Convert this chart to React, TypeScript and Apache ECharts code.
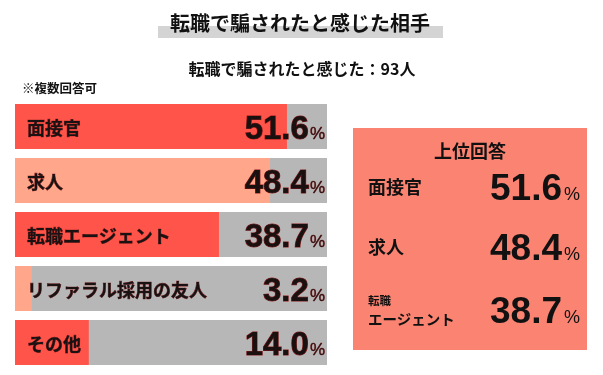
import React, { useEffect, useRef } from "react";
import * as echarts from "echarts";

const categories = ["面接官", "求人", "転職エージェント", "リファラル採用の友人", "その他"];
const values = [51.6, 48.4, 38.7, 3.2, 14.0];
const barColors = ["#ff5449", "#ffa68b", "#ff5449", "#ffa68b", "#ff5449"];
const axisMax = 59.2;
const titleText = "転職で騙されたと感じた相手";
const subtitleText = "転職で騙されたと感じた：93人";
const noteText = "※複数回答可";
const boxTitle = "上位回答";
const topCategories = ["面接官", "求人", "転職エージェント"];

const CJK = '"Noto Sans CJK JP", "Noto Sans", sans-serif';
const NUM = '"Liberation Sans", Arial, sans-serif';

export default function App() {
  const ref = useRef<HTMLDivElement>(null);
  useEffect(() => {
    if (!ref.current) return;
    const chart = echarts.init(ref.current, undefined, { renderer: "svg" });

    const rowY = [188, 248, 311];
    const boxGraphics: any[] = [];
    topCategories.forEach((cat, i) => {
      const v = values[categories.indexOf(cat)];
      if (cat === "転職エージェント") {
        boxGraphics.push({
          type: "text",
          x: 368,
          y: rowY[i] - 11,
          style: { text: "転職", fontSize: 11.5, fontWeight: "bold", fontFamily: CJK, fill: "#111", align: "left", verticalAlign: "middle" },
        });
        boxGraphics.push({
          type: "text",
          x: 368,
          y: rowY[i] + 7.5,
          style: { text: "エージェント", fontSize: 14.5, fontWeight: "bold", fontFamily: CJK, fill: "#111", align: "left", verticalAlign: "middle" },
        });
      } else {
        boxGraphics.push({
          type: "text",
          x: 368,
          y: rowY[i] - 2,
          style: {
            text: cat,
            fontSize: 18,
            fontWeight: "bold",
            fontFamily: CJK,
            fill: "#111",
            align: "left",
            verticalAlign: "middle",
          },
        });
      }
      boxGraphics.push({
        type: "text",
        x: 580,
        y: rowY[i],
        style: {
          text: `{n|${v.toFixed(1)}}{p|%}`,
          align: "right",
          verticalAlign: "middle",
          rich: {
            n: { fontSize: 37, fontWeight: "bold", fontFamily: NUM, fill: "#111", color: "#111", lineHeight: 36, verticalAlign: "bottom" },
            p: { fontSize: 18, fontFamily: NUM, fill: "#111", color: "#111", lineHeight: 36, verticalAlign: "bottom", padding: [0, 0, 3, 2] },
          },
        },
      });
    });

    chart.setOption({
      animation: false,
      grid: { left: 15, right: 276, top: 99.5, bottom: 5.5, containLabel: false },
      xAxis: { type: "value", min: 0, max: axisMax, show: false },
      yAxis: { type: "category", data: categories, inverse: true, show: false },
      series: [
        {
          type: "bar",
          data: values.map((v, i) => ({ value: v, itemStyle: { color: barColors[i] } })),
          barWidth: 45,
          showBackground: true,
          backgroundStyle: { color: "#b7b7b7" },
          z: 2,
          label: {
            show: true,
            position: "insideLeft",
            distance: 12,
            formatter: (p: any) => categories[p.dataIndex],
            fontSize: 18,
            fontWeight: "bold",
            fontFamily: CJK,
            color: "#1a1212",
            textBorderColor: "#8a2020",
            textBorderWidth: 0.6,
          },
        },
        {
          type: "bar",
          data: values.map(() => axisMax),
          barWidth: 45,
          barGap: "-100%",
          itemStyle: { color: "transparent" },
          silent: true,
          z: 3,
          label: {
            show: true,
            position: "insideRight",
            distance: 2,
            formatter: (p: any) => `{n|${values[p.dataIndex].toFixed(1)}}{p|%}`,
            rich: {
              n: {
                fontSize: 33,
                fontWeight: "bold",
                fontFamily: NUM,
                color: "#1a1010",
                textBorderColor: "#8a1a1a",
                textBorderWidth: 1,
                lineHeight: 34,
                verticalAlign: "bottom",
              },
              p: {
                fontSize: 17,
                fontFamily: NUM,
                color: "#2a1010",
                textBorderColor: "#8a1a1a",
                textBorderWidth: 0.5,
                lineHeight: 34,
                verticalAlign: "bottom",
                padding: [0, 0, 2, 1],
              },
            },
          },
        },
      ],
      graphic: [
        { type: "rect", shape: { x: 158, y: 26, width: 285, height: 12 }, style: { fill: "#d4d4d4" }, z: 0 },
        {
          type: "text",
          x: 300,
          y: 22,
          z: 1,
          style: { text: titleText, fontSize: 20, fontWeight: "bold", fontFamily: CJK, fill: "#111", align: "center", verticalAlign: "middle" },
        },
        {
          type: "text",
          x: 302,
          y: 68,
          style: { text: subtitleText, fontSize: 16, fontWeight: "bold", fontFamily: CJK, fill: "#111", align: "center", verticalAlign: "middle" },
        },
        {
          type: "text",
          x: 22,
          y: 87,
          style: { text: noteText, fontSize: 12.5, fontWeight: "bold", fontFamily: CJK, fill: "#111", align: "left", verticalAlign: "middle" },
        },
        { type: "rect", shape: { x: 353, y: 128, width: 234, height: 222 }, style: { fill: "#fa8371" }, z: 0 },
        {
          type: "text",
          x: 470,
          y: 150,
          z: 1,
          style: { text: boxTitle, fontSize: 18, fontWeight: "bold", fontFamily: CJK, fill: "#111", align: "center", verticalAlign: "middle" },
        },
        ...boxGraphics.map((g) => ({ ...g, z: 1 })),
      ],
    });
    return () => chart.dispose();
  }, []);
  return <div ref={ref} style={{ position: "fixed", left: 0, top: 0, width: 603, height: 375 }} />;
}
